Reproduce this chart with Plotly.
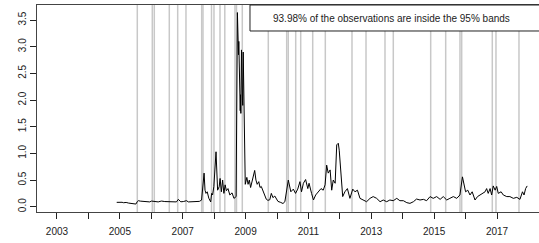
import plotly.graph_objects as go

# Decimal-year positions of the grey event lines
event_years = [2005.555, 2006.032, 2006.096, 2006.573, 2006.84, 2007.104, 2007.604, 2007.645,
               2007.916, 2007.995, 2008.186, 2008.339, 2008.663, 2008.711, 2008.896, 2009.723,
               2010.308, 2010.359, 2010.595, 2010.754, 2011.136, 2011.537, 2012.386, 2012.832,
               2013.436, 2013.700, 2014.890, 2015.367, 2015.822, 2015.876, 2016.85, 2016.967,
               2017.699]

# Series (decimal year, value)
series_x = [2004.90, 2004.96, 2005.01, 2005.07, 2005.12, 2005.20, 2005.28, 2005.37, 2005.45, 2005.51,
            2005.56, 2005.59, 2005.65, 2005.72, 2005.80, 2005.88, 2005.95, 2006.01, 2006.09, 2006.12,
            2006.22, 2006.28, 2006.33, 2006.43, 2006.54, 2006.65, 2006.75, 2006.80, 2006.86, 2006.90,
            2006.94, 2007.02, 2007.12, 2007.18, 2007.23, 2007.30, 2007.36, 2007.44, 2007.53, 2007.60,
            2007.65, 2007.68, 2007.71, 2007.74, 2007.78, 2007.83, 2007.89, 2007.92, 2007.95, 2007.99,
            2008.06, 2008.09, 2008.11, 2008.16, 2008.19, 2008.23, 2008.27, 2008.31, 2008.35, 2008.39,
            2008.44, 2008.50, 2008.57, 2008.63, 2008.70, 2008.74, 2008.755, 2008.765, 2008.775, 2008.785,
            2008.795, 2008.81, 2008.82, 2008.83, 2008.84, 2008.85, 2008.87, 2008.88, 2008.89, 2008.90,
            2008.91, 2008.925, 2008.99, 2009.04, 2009.08, 2009.12, 2009.16, 2009.20, 2009.25, 2009.29,
            2009.33, 2009.37, 2009.42, 2009.46, 2009.50, 2009.55, 2009.61, 2009.66, 2009.71, 2009.77,
            2009.82, 2009.87, 2009.93, 2009.98, 2010.03, 2010.12, 2010.19, 2010.25, 2010.36, 2010.44,
            2010.52, 2010.59, 2010.66, 2010.73, 2010.78, 2010.84, 2010.91, 2010.98, 2011.02, 2011.10,
            2011.16, 2011.23, 2011.31, 2011.40, 2011.47, 2011.53, 2011.58, 2011.63, 2011.69, 2011.74,
            2011.79, 2011.85, 2011.90, 2011.95, 2011.98, 2012.04, 2012.09, 2012.16, 2012.24, 2012.32,
            2012.41, 2012.48, 2012.56, 2012.64, 2012.75, 2012.85, 2012.96, 2013.06, 2013.17, 2013.28,
            2013.38, 2013.49, 2013.59, 2013.70, 2013.81, 2013.91, 2014.02, 2014.13, 2014.23, 2014.34,
            2014.44, 2014.55, 2014.66, 2014.76, 2014.87, 2014.97, 2015.08, 2015.19, 2015.29, 2015.40,
            2015.50, 2015.61, 2015.72, 2015.82, 2015.90, 2015.95, 2016.00, 2016.07, 2016.14, 2016.21,
            2016.30, 2016.38, 2016.46, 2016.53, 2016.62, 2016.67, 2016.72, 2016.78, 2016.83, 2016.88,
            2016.94, 2016.99, 2017.04, 2017.13, 2017.20, 2017.31, 2017.41, 2017.52, 2017.63, 2017.73,
            2017.81, 2017.86, 2017.91, 2017.96]
series_y = [0.082, 0.085, 0.090, 0.083, 0.075, 0.080, 0.068, 0.062, 0.058, 0.050,
            0.100, 0.113, 0.105, 0.100, 0.095, 0.082, 0.090, 0.106, 0.095, 0.098,
            0.090, 0.100, 0.106, 0.097, 0.094, 0.097, 0.100, 0.090, 0.138, 0.110,
            0.092, 0.097, 0.113, 0.090, 0.092, 0.097, 0.094, 0.090, 0.100, 0.125,
            0.45, 0.63, 0.31, 0.25, 0.28, 0.16, 0.09, 0.25, 0.22, 0.375,
            1.03, 0.60, 0.31, 0.375, 0.53, 0.28, 0.50, 0.25, 0.41, 0.30,
            0.34, 0.22, 0.26, 0.156, 0.19, 3.64, 2.95, 3.20, 2.85, 3.10,
            2.70, 2.00, 2.30, 1.80, 2.10, 1.75, 2.94, 2.20, 2.80, 2.00,
            1.90, 2.90, 0.42, 0.55, 0.42, 0.50, 0.36, 0.45, 0.55, 0.68,
            0.50, 0.42, 0.47, 0.36, 0.38, 0.30, 0.22, 0.14, 0.12, 0.13,
            0.25, 0.17, 0.20, 0.14, 0.10, 0.08, 0.06, 0.094, 0.50, 0.28,
            0.33, 0.25, 0.33, 0.47, 0.28, 0.44, 0.51, 0.34, 0.44, 0.25,
            0.126, 0.22, 0.28, 0.34, 0.31, 0.41, 0.78, 0.63, 0.69, 0.31,
            0.50, 0.44, 1.16, 1.19, 1.06, 0.63, 0.19, 0.28, 0.34, 0.157,
            0.33, 0.28, 0.31, 0.157, 0.126, 0.094, 0.157, 0.19, 0.157, 0.094,
            0.126, 0.094, 0.126, 0.113, 0.157, 0.113, 0.113, 0.076, 0.063, 0.094,
            0.144, 0.126, 0.138, 0.113, 0.19, 0.157, 0.19, 0.138, 0.19, 0.126,
            0.157, 0.19, 0.157, 0.22, 0.56, 0.41, 0.28, 0.31, 0.22, 0.28,
            0.126, 0.19, 0.22, 0.25, 0.28, 0.34, 0.25, 0.34, 0.22, 0.39,
            0.31, 0.38, 0.25, 0.28, 0.22, 0.19, 0.19, 0.157, 0.176, 0.138,
            0.28, 0.22, 0.34, 0.39]

year_ticks = list(range(2003, 2018))
year_labels = [str(y) if y % 2 == 1 else "" for y in year_ticks]
y_ticks = [0.0, 0.5, 1.0, 1.5, 2.0, 2.5, 3.0, 3.5]
legend_text = "93.98% of the observations are inside the 95% bands"

FONT = "Liberation Sans, Arial, sans-serif"

fig = go.Figure()
fig.add_trace(go.Scatter(x=series_x, y=series_y, mode="lines",
                         line=dict(color="black", width=1), showlegend=False,
                         hoverinfo="skip"))

for ev in event_years:
    fig.add_shape(type="line", xref="x", yref="paper", x0=ev, x1=ev, y0=0, y1=1,
                  line=dict(color="#c8c8c8", width=1.5), layer="below")

# legend box
fig.add_shape(type="rect", xref="paper", yref="paper", x0=0.4243, x1=1.05, y0=0.8744, y1=1.0,
              line=dict(color="#222", width=1), fillcolor="white", layer="above")
fig.add_annotation(xref="paper", yref="paper", x=0.466, y=0.937, xanchor="left", yanchor="middle",
                   text=legend_text, showarrow=False, font=dict(family=FONT, size=10, color="#222"))

fig.update_layout(
    width=539, height=243,
    margin=dict(l=37, r=0, t=5, b=31),
    paper_bgcolor="white", plot_bgcolor="white",
    font=dict(family=FONT, size=10, color="#222"),
    showlegend=False,
    hovermode=False,
    xaxis=dict(range=[2002.364, 2018.336], tickmode="array", tickvals=year_ticks,
               ticktext=year_labels, ticks="outside", ticklen=6, tickcolor="#222",
               showline=True, linecolor="#444", linewidth=1, mirror=True,
               showgrid=False, zeroline=False, ticklabelstandoff=4),
    yaxis=dict(range=[-0.099, 3.782], tickmode="array", tickvals=y_ticks,
               ticktext=["%.1f" % v for v in y_ticks], tickangle=-90,
               ticks="outside", ticklen=6, tickcolor="#222",
               showline=True, linecolor="#444", linewidth=1, mirror=False,
               showgrid=False, zeroline=False),
)

fig.write_html("out.html", config={"displayModeBar": False},
               post_script="document.body.style.margin='0';document.body.style.overflow='hidden';")
